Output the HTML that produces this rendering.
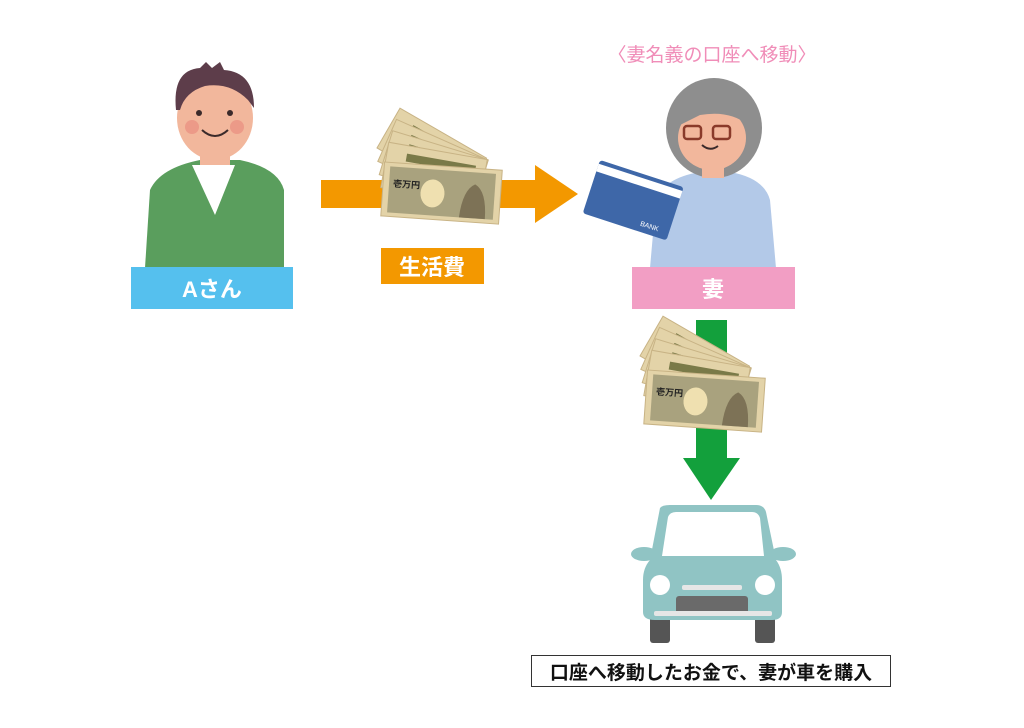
<!DOCTYPE html>
<html><head><meta charset="utf-8"><style>
body{margin:0;background:#fff;}
svg{display:block}
text{font-family:"Liberation Sans","Noto Sans CJK JP",sans-serif;}
</style></head><body>
<svg width="1024" height="728" viewBox="0 0 1024 728">
<defs>
<g id="money">
  <g transform="rotate(30)"><rect x="0" y="-16" width="100" height="46" fill="#e3d3a8" stroke="#c8b385"/><rect x="20" y="-8" width="70" height="8" fill="#7a7a48"/></g>
  <g transform="translate(-2,12) rotate(24)"><rect x="0" y="-16" width="100" height="46" fill="#e3d3a8" stroke="#c8b385"/><rect x="20" y="-8" width="70" height="8" fill="#7a7a48"/></g>
  <g transform="translate(-4,24) rotate(17)"><rect x="0" y="-16" width="100" height="46" fill="#e3d3a8" stroke="#c8b385"/><rect x="20" y="-8" width="70" height="8" fill="#7a7a48"/></g>
  <g transform="translate(-6,36) rotate(10)"><rect x="0" y="-16" width="100" height="46" fill="#e3d3a8" stroke="#c8b385"/><rect x="20" y="-8" width="70" height="8" fill="#7a7a48"/></g>
  <g transform="translate(-8,48) rotate(4)"><rect x="0" y="-8" width="118" height="54" fill="#e3d3a8" stroke="#c8b385"/><rect x="6" y="-4" width="106" height="46" fill="#a9a27e"/><ellipse cx="50" cy="20" rx="12" ry="14" fill="#efe0b0"/><path d="M78 42 Q80 14 92 8 Q104 14 104 42Z" fill="#7d7256"/><text x="10" y="16" font-size="9" fill="#222" font-weight="bold">壱万円</text></g>
</g>
</defs>

<!-- Man -->
<path d="M145 268 L150 190 Q160 168 200 160 L240 160 Q278 168 284 190 L284 268Z" fill="#5a9e5d"/>
<path d="M192 165 L235 165 L215 215Z" fill="#fff"/>
<rect x="200" y="140" width="30" height="25" fill="#f2b79c"/>
<ellipse cx="215" cy="118" rx="38" ry="42" fill="#f2b79c"/>
<path d="M176 110 Q172 70 200 68 L206 62 L212 68 L220 62 L224 70 Q254 72 254 108 L248 100 Q230 82 205 86 Q185 92 180 110Z" fill="#5d3d4a"/>
<circle cx="199" cy="113" r="3" fill="#3b2a2a"/><circle cx="230" cy="113" r="3" fill="#3b2a2a"/>
<path d="M202 130 Q215 142 228 130" stroke="#3b2a2a" stroke-width="2" fill="none"/>
<circle cx="192" cy="127" r="7" fill="#ec9a88"/><circle cx="237" cy="127" r="7" fill="#ec9a88"/>
<rect x="131" y="267" width="162" height="42" fill="#55c0ee"/>
<text x="212" y="297" font-size="22" font-weight="bold" fill="#fff" text-anchor="middle">Aさん</text>

<!-- Orange arrow -->
<rect x="321" y="180" width="216" height="28" fill="#f39800"/>
<path d="M535 165 L578 194 L535 223Z" fill="#f39800"/>
<g transform="translate(392,122)"><use href="#money"/></g>
<rect x="381" y="248" width="103" height="36" fill="#f39800"/>
<text x="432" y="275" font-size="22" font-weight="bold" fill="#fff" text-anchor="middle">生活費</text>

<!-- Title -->
<text x="712" y="61" font-size="19" fill="#f08db8" text-anchor="middle">〈妻名義の口座へ移動〉</text>

<!-- Woman -->
<path d="M650 268 L656 200 Q664 178 700 172 L730 172 Q764 178 770 200 L776 268Z" fill="#b3c9e8"/>
<ellipse cx="714" cy="128" rx="48" ry="50" fill="#8e8e8e"/>
<rect x="702" y="160" width="22" height="18" fill="#f2b79c"/>
<ellipse cx="712" cy="138" rx="34" ry="32" fill="#f2b79c"/>
<path d="M680 125 Q690 95 720 98 Q745 102 748 125 Q730 110 700 115Z" fill="#8e8e8e"/>
<rect x="684" y="126" width="17" height="13" rx="3" fill="none" stroke="#8a3a2a" stroke-width="2.5"/>
<rect x="713" y="126" width="17" height="13" rx="3" fill="none" stroke="#8a3a2a" stroke-width="2.5"/>
<path d="M702 145 Q710 152 718 146" stroke="#3b2a2a" stroke-width="2" fill="none"/>
<g transform="translate(600,160) rotate(18)">
<rect x="0" y="0" width="88" height="56" rx="3" fill="#3e67a8"/>
<rect x="0" y="4" width="88" height="8" fill="#fff"/>
<text x="58" y="50" font-size="7" fill="#fff">BANK</text>
</g>
<rect x="632" y="267" width="163" height="42" fill="#f29ec4"/>
<text x="713" y="297" font-size="22" font-weight="bold" fill="#fff" text-anchor="middle">妻</text>

<!-- Green arrow -->
<rect x="696" y="320" width="31" height="140" fill="#13a03c"/>
<path d="M683 458 L740 458 L711 500Z" fill="#13a03c"/>
<g transform="translate(655,330)"><use href="#money"/></g>

<!-- Car -->
<ellipse cx="644" cy="554" rx="13" ry="7" fill="#90c4c4"/>
<ellipse cx="783" cy="554" rx="13" ry="7" fill="#90c4c4"/>
<rect x="650" y="608" width="20" height="35" rx="3" fill="#555"/>
<rect x="755" y="608" width="20" height="35" rx="3" fill="#555"/>
<path d="M660 508 Q662 505 670 505 L756 505 Q764 505 766 512 L776 560 Q782 568 782 580 L782 612 Q782 620 772 620 L655 620 Q643 620 643 612 L643 580 Q643 568 650 560Z" fill="#90c4c4"/>
<path d="M668 517 Q670 512 676 512 L752 512 Q758 512 760 518 L764 556 L662 556Z" fill="#fff"/>
<circle cx="660" cy="585" r="10" fill="#fff"/><circle cx="765" cy="585" r="10" fill="#fff"/>
<rect x="682" y="585" width="60" height="5" rx="2" fill="#e6e6e6"/>
<rect x="676" y="596" width="72" height="18" rx="3" fill="#6a6a6a"/>
<rect x="654" y="611" width="118" height="5" rx="2" fill="#e6e6e6"/>

<!-- Bottom label -->
<rect x="531.5" y="655.5" width="359" height="31" fill="#fff" stroke="#333"/>
<text x="711" y="679" font-size="19" font-weight="bold" fill="#111" text-anchor="middle">口座へ移動したお金で、妻が車を購入</text>
</svg>
</body></html>
